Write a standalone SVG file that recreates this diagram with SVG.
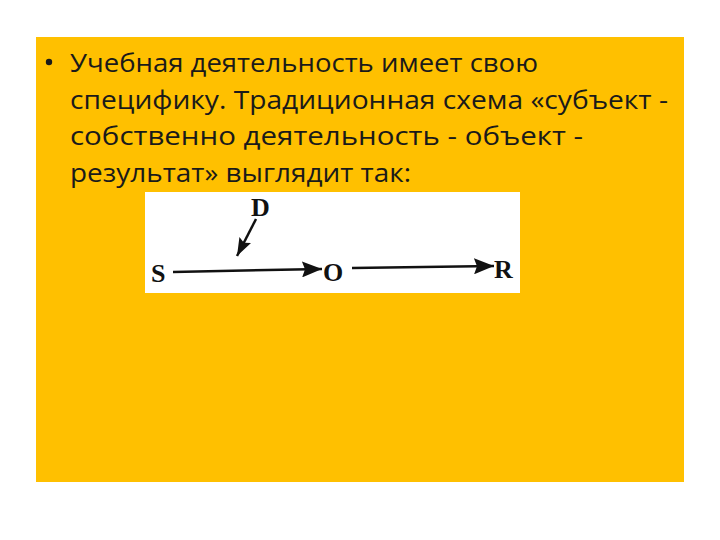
<svg xmlns="http://www.w3.org/2000/svg" width="720" height="540" viewBox="0 0 720 540">
<defs>
<style>
.t{font-family:"Open Sans","Noto Sans","Liberation Sans",sans-serif;font-size:26px;fill:#1a1a1a}
.l{font-family:"Liberation Serif","DejaVu Serif",serif;font-weight:bold;font-size:26px;fill:#111}
.c{stroke:#111;stroke-width:2.5;fill:none}
</style>
<marker id="ahb" viewBox="0 0 20 16" refX="20" refY="8" markerWidth="20" markerHeight="16" markerUnits="userSpaceOnUse" orient="auto">
<path d="M0,0 L20,8 L0,16 L3,8 Z" fill="#111"/>
</marker>
<marker id="ahd" viewBox="0 0 18 13" refX="18" refY="6.5" markerWidth="18" markerHeight="13" markerUnits="userSpaceOnUse" orient="auto">
<path d="M0,0 L18,6.5 L0,13 L3,6.5 Z" fill="#111"/>
</marker>
</defs>
<rect width="720" height="540" fill="#ffffff"/>
<rect x="36" y="37" width="648" height="445" fill="#FFC000"/>
<g id="text">
<circle cx="49" cy="62" r="3.2" fill="#1a1a1a"/>
<text class="t" x="70" y="72" textLength="468" lengthAdjust="spacingAndGlyphs">Учебная деятельность имеет свою</text>
<text class="t" x="70" y="108.5" textLength="598" lengthAdjust="spacingAndGlyphs">специфику. Традиционная схема «субъект -</text>
<text class="t" x="70" y="145" textLength="513" lengthAdjust="spacingAndGlyphs">собственно деятельность - объект -</text>
<text class="t" x="70" y="181.5" textLength="341" lengthAdjust="spacingAndGlyphs">результат» выглядит так:</text>
</g>
<rect x="145" y="192" width="375" height="101" fill="#ffffff"/>
<g id="node-S"><text class="l" x="151" y="282">S</text></g>
<g id="node-D"><text class="l" x="251" y="216">D</text></g>
<g id="node-O"><text class="l" x="323" y="281">O</text></g>
<g id="node-R"><text class="l" x="494" y="278">R</text></g>
<g id="connectors">
<path class="c" d="M173,272 L322,269" marker-end="url(#ahb)"/>
<path class="c" d="M352,268 L494,266" marker-end="url(#ahb)"/>
<path class="c" d="M256,219 L237,256" marker-end="url(#ahd)"/>
</g>
</svg>
